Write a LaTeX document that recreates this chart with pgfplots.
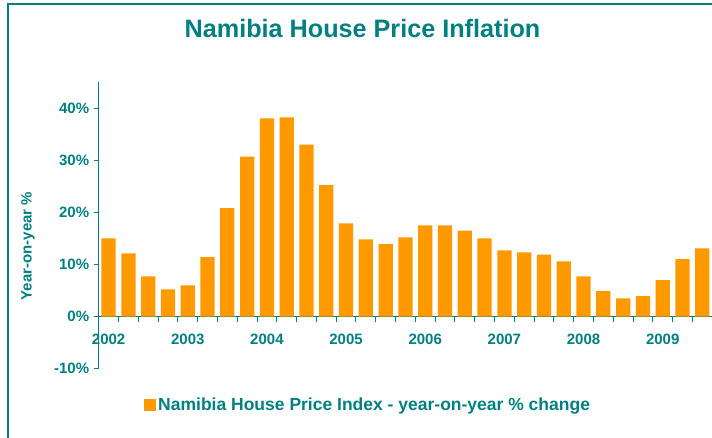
\documentclass[border=0pt]{standalone}
\usepackage{pgfplots}
\pgfplotsset{compat=1.18}
\usepackage{fontspec}
\setmainfont{Liberation Sans}
\definecolor{tealc}{RGB}{0,128,128}
\definecolor{orangec}{RGB}{255,153,0}
\begin{document}
\begin{tikzpicture}
\path[use as bounding box] (0,0) rectangle (712bp,438bp);
\draw[tealc, line width=2bp] (8bp,-10bp) -- (8bp,434bp) -- (730bp,434bp);
\node[anchor=base, text=tealc, font=\fontsize{25.2bp}{30bp}\selectfont\bfseries, inner sep=0] at (362.5bp,400bp) {Namibia House Price Inflation};
\node[rotate=90, text=tealc, font=\fontsize{15bp}{18bp}\selectfont\bfseries, inner sep=0] at (28bp,192bp) {Year-on-year \%};
\begin{axis}[
  at={(98.7bp,69.3bp)}, anchor=south west,
  width=613.5bp, height=286.7bp, scale only axis,
  xmin=-0.5, xmax=30.5, ymin=-10, ymax=45,
  axis x line=middle, axis y line=left,
  axis line style={-, tealc, line width=1.2bp},
  xtick={0,4,...,28},
  xticklabels={2002,2003,2004,2005,2006,2007,2008,2009},
  minor xtick={0.5,1.5,...,29.5},
  major x tick style={draw=none},
  minor x tick style={tealc, line width=1bp},
  minor tick length=5bp,
  ytick={-10,0,10,20,30,40},
  yticklabels={-10\%,0\%,10\%,20\%,30\%,40\%},
  major y tick style={tealc, line width=1bp},
  major tick length=5bp,
  tick align=outside,
  xtick align=outside,
  ticklabel style={text=tealc, font=\fontsize{15bp}{18bp}\selectfont\bfseries},
  xticklabel style={yshift=-9bp},
  yticklabel style={xshift=-1bp},
  legend style={at={(0.0739,-0.1266)}, anchor=west, draw=none, fill=none, inner sep=0pt,
     font=\fontsize{17.5bp}{21bp}\selectfont\bfseries, text=tealc,
     nodes={inner sep=2bp}},
  legend image code/.code={\fill[orangec] (-2bp,-6bp) rectangle (10bp,6bp);},
  legend cell align=left,
]
\addplot[ybar, bar width=0.72, fill=orangec, draw=none] coordinates {
(0,15.0) (1,12.1) (2,7.7) (3,5.2) (4,6.0) (5,11.4) (6,20.8) (7,30.7)
(8,38.0) (9,38.2) (10,33.0) (11,25.2) (12,17.9) (13,14.8) (14,13.9) (15,15.2)
(16,17.5) (17,17.5) (18,16.5) (19,15.0) (20,12.7) (21,12.3) (22,11.9) (23,10.6)
(24,7.7) (25,4.9) (26,3.5) (27,3.9) (28,7.0) (29,11.0) (30,13.1)
};
\addlegendentry{Namibia House Price Index - year-on-year \% change}
\end{axis}
\end{tikzpicture}
\end{document}
